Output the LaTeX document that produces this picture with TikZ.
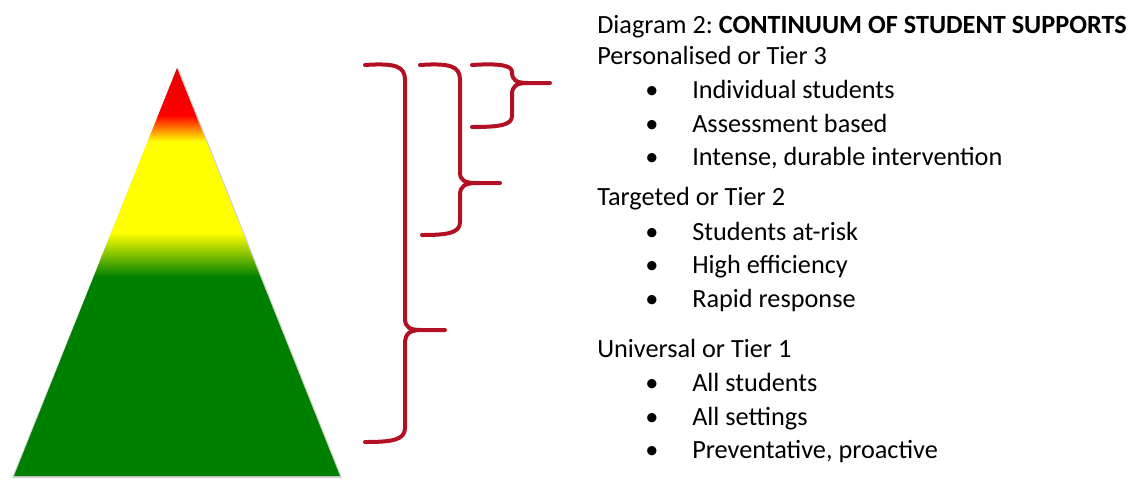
\documentclass[tikz,border=0pt]{standalone}
\usepackage{fontspec}
\setmainfont{Carlito}
\usepackage{tikz}
\usetikzlibrary{positioning}

\definecolor{bracered}{RGB}{180,16,36}
\definecolor{tiergreen}{RGB}{0,128,0}
\definecolor{tierred}{RGB}{255,0,0}
\definecolor{tieryellow}{RGB}{255,255,0}

% Tier colours from bottom (25bp) to apex (75bp)
\pgfdeclareverticalshading{tiers}{100bp}{%
  color(0bp)=(tiergreen); color(49.4bp)=(tiergreen);
  color(54.8bp)=(tieryellow); color(66.0bp)=(tieryellow);
  color(69.2bp)=(tierred); color(75bp)=(tierred!90!black);
  color(100bp)=(tierred!90!black)}

\tikzset{
  brace/.style={draw=bracered, line width=3pt, line cap=round, line join=round},
  head/.style={anchor=base west, inner sep=0pt},
  item/.style={anchor=base west, inner sep=0pt},
  dot/.style={anchor=base, inner sep=0pt}
}

\begin{document}
\begin{tikzpicture}[x=0.75pt, y=-0.75pt, font=\fontsize{19.7}{23}\selectfont]
    \useasboundingbox (0,0) rectangle (1135,480);

    % Pyramid
    \fill[gray, opacity=0.35] (178,67) -- (342,478) -- (12,478) -- cycle;
    \shade[shading=tiers] (177,68) -- (340,476) -- (14,476) -- cycle;

    % Braces
    \draw[brace] (365,65) .. controls (395,63) and (405,66) .. (405,80)
        -- (405,318) .. controls (405,328) and (410,330) .. (422,330) -- (445,330)
        (422,330) .. controls (410,330) and (405,333) .. (405,344)
        -- (405,428) .. controls (405,440) and (392,442) .. (365,442);
    \draw[brace] (420,65) .. controls (450,63) and (460,66) .. (460,80)
        -- (460,172) .. controls (460,181) and (465,183) .. (477,183) -- (500,183)
        (477,183) .. controls (465,183) and (460,186) .. (460,195)
        -- (460,222) .. controls (460,233) and (448,235) .. (422,235);
    \draw[brace] (472,65) .. controls (502,63) and (512,66) .. (512,72)
        .. controls (512,80) and (516,83) .. (528,83) -- (550,83)
        (528,83) .. controls (516,83) and (512,86) .. (512,95)
        -- (512,116) .. controls (512,125) and (500,127) .. (472,127);

    % Title and tiers
    \node[head] (title) at (597,33) {Diagram 2:~\textbf{CONTINUUM OF STUDENT SUPPORTS}};
    \node[head] (tier3) at (597,64) {Personalised or Tier 3};
    \node[head] (tier2) at (597,205) {Targeted or Tier 2};
    \node[head] (tier1) at (597,357) {Universal or Tier 1};

    % Bullet items
    \foreach \y/\txt [count=\i] in {98/Individual students, 132/Assessment based,
        165/{Intense, durable intervention}, 240/Students at-risk, 273/High efficiency,
        307/Rapid response, 391/All students, 425/All settings,
        458/{Preventative, proactive}} {
      \node[dot] (dot\i) at (652,\y) {\textbullet};
      \node[item] (item\i) at (692,\y) {\txt};
    }
\end{tikzpicture}
\end{document}
